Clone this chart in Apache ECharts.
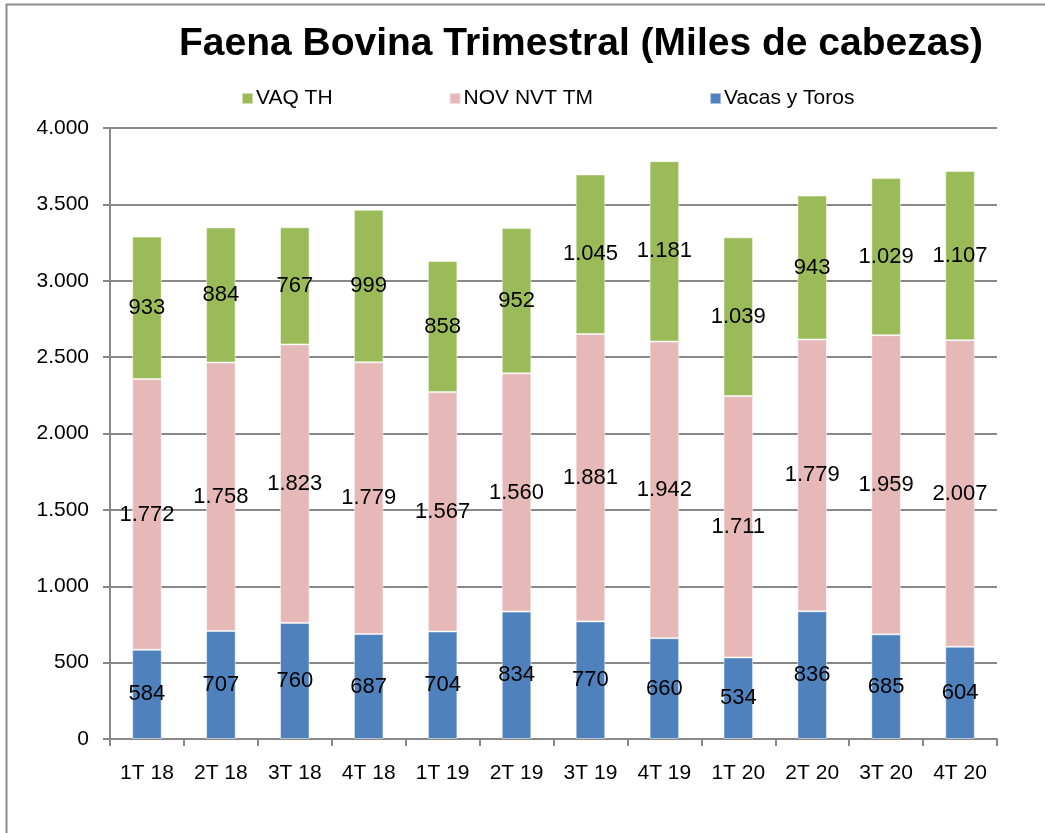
<!DOCTYPE html>
<html>
<head>
<meta charset="utf-8">
<script src="https://cdn.jsdelivr.net/npm/echarts@6/dist/echarts.min.js"></script>
<style>
  html, body { margin: 0; padding: 0; background: #fff; }
  #chart { width: 1045px; height: 833px; }
</style>
</head>
<body>
<div id="chart"></div>
<script>
const categories = ['1T 18', '2T 18', '3T 18', '4T 18', '1T 19', '2T 19', '3T 19', '4T 19', '1T 20', '2T 20', '3T 20', '4T 20']
const vacasToros = [584, 707, 760, 687, 704, 834, 770, 660, 534, 836, 685, 604]
const novNvtTm = [1772, 1758, 1823, 1779, 1567, 1560, 1881, 1942, 1711, 1779, 1959, 2007]
const vaqTh = [933, 884, 767, 999, 858, 952, 1045, 1181, 1039, 943, 1029, 1107]
const legendNames = ['VAQ TH', 'NOV NVT TM', 'Vacas y Toros']

const font = '"Liberation Sans", Arial, sans-serif'

// miles con punto, como en el original
function fmt(v) {
  return String(v).replace(/\B(?=(\d{3})+(?!\d))/g, '.')
}

function barSeries(name, data, color) {
  return {
    name: name,
    type: 'bar',
    stack: 'total',
    barWidth: '40%',
    data: data,
    itemStyle: { color: color, borderColor: 'rgba(255,255,255,0.5)', borderWidth: 1 },
    label: {
      show: true,
      position: 'inside',
      color: '#000',
      fontFamily: font,
      fontSize: 22,
      formatter: p => fmt(p.value)
    }
  }
}

const chart = echarts.init(document.getElementById('chart'))
const option = {
  backgroundColor: '#fff',
  animation: false,
  title: {
    text: 'Faena Bovina Trimestral (Miles de cabezas)',
    left: 576,
    top: 20,
    textAlign: 'center',
    textStyle: { fontFamily: font, fontSize: 39, fontWeight: 'bold', color: '#000' }
  },
  legend: {
    data: legendNames,
    top: 83,
    left: 236,
    itemWidth: 11,
    itemHeight: 11,
    itemGap: 116,
    icon: 'rect',
    textStyle: { fontFamily: font, fontSize: 21, color: '#000', padding: [0, 0, 0, -2] }
  },
  graphic: [
    {
      type: 'rect',
      shape: { x: 6.5, y: 4.5, width: 1100, height: 900 },
      style: { fill: 'none', stroke: '#8c8c8c', lineWidth: 2 },
      silent: true
    }
  ],
  grid: { left: 110, right: 48, top: 128, bottom: 94 },
  xAxis: {
    type: 'category',
    data: categories,
    axisLine: { lineStyle: { color: '#888', width: 2 } },
    axisTick: { show: true, length: 7, lineStyle: { color: '#888', width: 2 } },
    axisLabel: { fontFamily: font, fontSize: 21, color: '#000', margin: 24 }
  },
  yAxis: {
    type: 'value',
    min: 0,
    max: 4000,
    interval: 500,
    axisLine: { show: true, lineStyle: { color: '#888', width: 2 } },
    axisTick: { show: true, length: 7, lineStyle: { color: '#888', width: 2 } },
    splitLine: { lineStyle: { color: '#888', width: 2 } },
    axisLabel: { fontFamily: font, fontSize: 21, color: '#000', margin: 21, formatter: v => fmt(v) }
  },
  series: [
    barSeries('Vacas y Toros', vacasToros, '#4f81bd'),
    barSeries('NOV NVT TM', novNvtTm, '#e6b9b8'),
    barSeries('VAQ TH', vaqTh, '#9bbb59')
  ]
}
chart.setOption(option)
window.addEventListener('resize', () => chart.resize())
</script>
</body>
</html>
